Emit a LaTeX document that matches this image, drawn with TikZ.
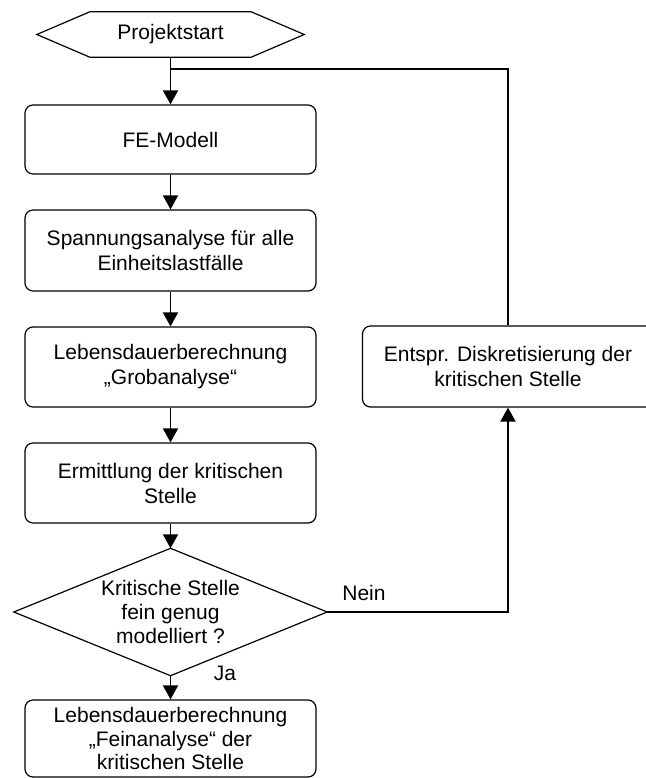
\documentclass[tikz,border=0pt]{standalone}
\usepackage{fontspec}
\setmainfont{Liberation Sans}
\usetikzlibrary{arrows.meta,calc}
\begin{document}
\begin{tikzpicture}[x=1pt,y=-1pt,
  txt/.style={inner sep=0pt, align=center, font=\fontsize{21pt}{25pt}\selectfont},
  proc/.style={txt, draw, line width=1.2pt, rounded corners=8pt, minimum width=291pt},
  shapeline/.style={line width=1.2pt, line join=miter},
  plainline/.style={line width=1.8pt},
  conn/.style={line width=1.8pt, -{Triangle[length=14pt,width=15pt]}}]
\useasboundingbox (0,0) rectangle (645,778);
\node[txt, minimum width=267pt, minimum height=45pt] (start) at (170.5,34.5) {Projektstart};
\draw[shapeline] (start.west) -- ($(start.north west)+(53,0)$) -- ($(start.north east)+(-53,0)$) -- (start.east) -- ($(start.south east)+(-53,0)$) -- ($(start.south west)+(53,0)$) -- cycle;
\node[proc, minimum height=69pt] (fe) at (170.5,139.5) {FE-Modell};
\node[proc, minimum height=81pt] (span) at (170.5,250.5) {Spannungsanalyse für alle\\Einheitslastfälle};
\node[proc, minimum height=80pt] (grob) at (170.5,367) {Lebensdauerberechnung\\„Grobanalyse“};
\node[proc, minimum height=80pt] (ermitt) at (170.5,483) {Ermittlung der kritischen\\Stelle};
\node[txt, font=\fontsize{21pt}{24pt}\selectfont, minimum width=313pt, minimum height=127pt] (dec) at (170.5,612) {Kritische Stelle\\fein genug\\modelliert ?};
\draw[shapeline] (dec.west) -- (dec.north) -- (dec.east) -- (dec.south) -- cycle;
\node[proc, font=\fontsize{21pt}{23.5pt}\selectfont, minimum height=77pt] (fein) at (170.5,738.5) {Lebensdauerberechnung\\„Feinanalyse“ der\\kritischen Stelle};
\node[proc, minimum height=81pt] (disk) at (508,366.5) {Entspr. Diskretisierung der\\kritischen Stelle};
\coordinate (j) at (170.5,69);
\coordinate (ctr) at (508,69);
\coordinate (cnr) at (508,612);
\draw[conn] (start.south) -- (fe.north);
\draw[plainline] (disk.north) -- (ctr) -- (j);
\draw[conn] (fe.south) -- (span.north);
\draw[conn] (span.south) -- (grob.north);
\draw[conn] (grob.south) -- (ermitt.north);
\draw[conn] (ermitt.south) -- (dec.north);
\draw[conn] (dec.south) -- (fein.north);
\draw[conn] (dec.east) -- (cnr) -- (disk.south);
\node[txt] (nein) at (364,593) {Nein};
\node[txt] (ja) at (225,673) {Ja};
\end{tikzpicture}
\end{document}
